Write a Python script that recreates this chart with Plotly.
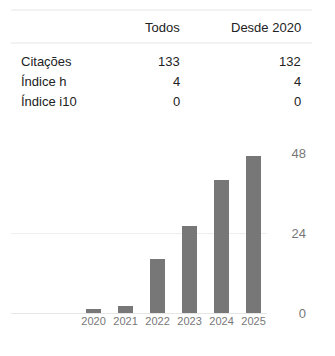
import plotly.graph_objects as go

# Citation summary table
header = ["Todos", "Desde 2020"]
row_labels = ["Citações", "Índice h", "Índice i10"]
all_time = [133, 4, 0]
since_2020 = [132, 4, 0]

# Citations per year
years = [2020, 2021, 2022, 2023, 2024, 2025]
citations = [1, 2, 16, 26, 40, 47]
y_ticks = [0, 24, 48]

W, H = 335, 356
FONT = "Liberation Sans, Arial, sans-serif"


def px(x):
    return x / W


def py(y):
    return 1 - y / H


fig = go.Figure()
fig.add_trace(go.Bar(
    x=years, y=citations, width=0.47,
    marker=dict(color="#777777", line=dict(width=0)),
    hoverinfo="skip",
))

annotations = []
# header row
for txt, xr in zip(header, [182, 303]):
    annotations.append(dict(text=txt, x=px(xr), y=py(27), xanchor="right", yanchor="middle"))
# body rows
for i, lab in enumerate(row_labels):
    yy = py(62 + i * 19.5)
    annotations.append(dict(text=lab, x=px(19), y=yy, xanchor="left", yanchor="middle"))
    annotations.append(dict(text=str(all_time[i]), x=px(182), y=yy, xanchor="right", yanchor="middle"))
    annotations.append(dict(text=str(since_2020[i]), x=px(303), y=yy, xanchor="right", yanchor="middle"))
for a in annotations:
    a.update(xref="paper", yref="paper", showarrow=False,
             font=dict(family=FONT, size=13, color="#222222"))

shapes = [
    dict(type="line", xref="paper", yref="paper", x0=px(11), x1=px(312), y0=py(10), y1=py(10),
         line=dict(color="#e6e6e6", width=1)),
    dict(type="line", xref="paper", yref="paper", x0=px(11), x1=px(312), y0=py(43), y1=py(43),
         line=dict(color="#e6e6e6", width=1)),
]

fig.update_layout(
    width=W, height=H, autosize=False,
    margin=dict(l=0, r=0, t=0, b=0, pad=0),
    paper_bgcolor="white", plot_bgcolor="white",
    showlegend=False,
    annotations=annotations,
    shapes=shapes,
    bargap=0,
    xaxis=dict(
        domain=[px(11), px(267)],
        range=[2017.42, 2025.42],
        tickmode="array", tickvals=years, ticktext=[str(y) for y in years],
        showgrid=False, zeroline=False, showline=False, ticks="",
        tickfont=dict(family=FONT, size=11, color="#777777"),
        automargin=False, fixedrange=True,
    ),
    yaxis=dict(
        domain=[py(313), py(153.3)],
        range=[0, 48],
        tickmode="array", tickvals=y_ticks,
        side="left", anchor="free", position=px(306),
        showgrid=True, gridcolor="#eeeeee", gridwidth=1,
        zeroline=True, zerolinecolor="#e6e6e6", zerolinewidth=1,
        showline=False, ticks="",
        tickfont=dict(family=FONT, size=13, color="#777777"),
        automargin=False, fixedrange=True,
    ),
)

fig.write_html("out.html", config={"displayModeBar": False})
